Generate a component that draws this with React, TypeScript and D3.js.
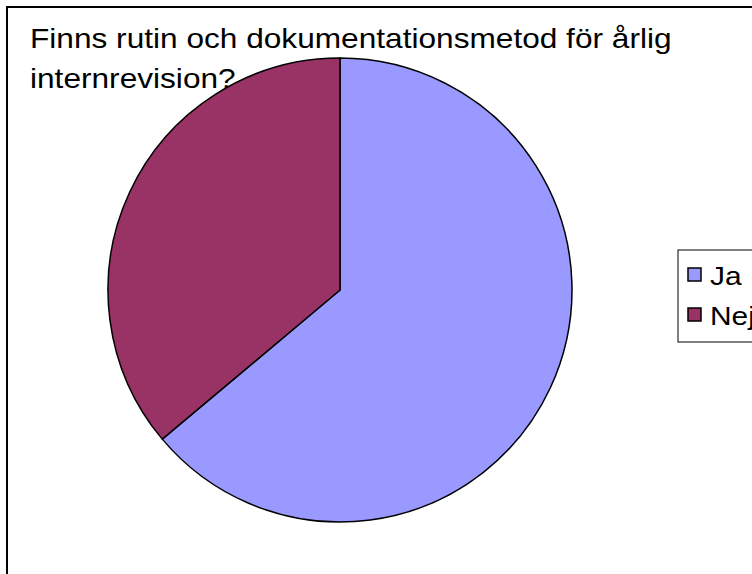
import React from "react";
import * as d3 from "d3";

const categories = ["Ja", "Nej"];
const values = [23, 13];
const colors = ["#9999FF", "#993366"];
const titleLines = ["Finns rutin och dokumentationsmetod för årlig", "internrevision?"];

export default function App() {
  const W = 752, H = 574;
  const cx = 340, cy = 290, r = 232;
  const pie = d3.pie<number>().sort(null).value((d) => d);
  const arcs = pie(values);
  const arcGen = d3.arc<d3.PieArcDatum<number>>().innerRadius(0).outerRadius(r);
  const font = "'Liberation Sans', Arial, sans-serif";
  const sx = 1.13;
  return (
    <svg width={W} height={H} style={{ position: "absolute", left: 0, top: 0, background: "#fff" }}>
      <rect x={7} y={7} width={W + 20} height={H + 20} fill="#fff" stroke="#000" strokeWidth={2} />
      {titleLines.map((t, i) => (
        <text key={i} transform={`translate(30,${47.5 + i * 40}) scale(${sx},1)`} fontFamily={font} fontSize={28} fill="#000">{t}</text>
      ))}
      <g transform={`translate(${cx},${cy})`}>
        {arcs.map((a, i) => (
          <path key={i} d={arcGen(a) || ""} fill={colors[i]} stroke="#000" strokeWidth={1.5} strokeLinejoin="round" />
        ))}
      </g>
      <rect x={678} y={250} width={100} height={92} fill="#fff" stroke="#000" strokeWidth={1} />
      {categories.map((c, i) => (
        <g key={c} transform={`translate(0,${i * 40})`}>
          <rect x={688} y={268} width={13} height={13} fill={colors[i]} stroke="#000" strokeWidth={1.5} />
          <text transform={`translate(710,285) scale(1.15,1)`} fontFamily={font} fontSize={26} fill="#000">{c}</text>
        </g>
      ))}
    </svg>
  );
}
